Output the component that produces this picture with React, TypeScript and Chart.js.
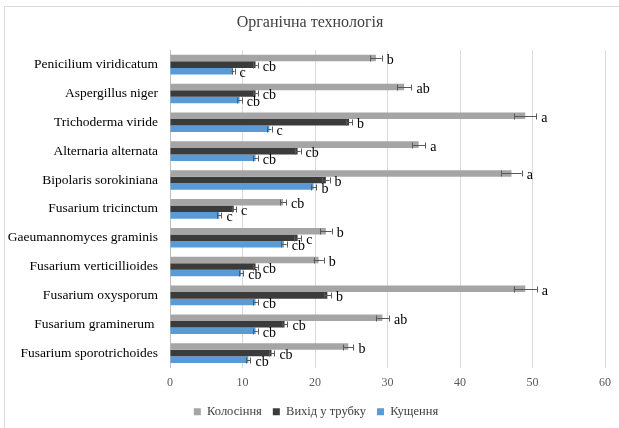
import React, { useEffect, useRef } from "react";
import { Chart, registerables } from "chart.js";

Chart.register(...registerables);

const categories = [
  "Penicilium viridicatum",
  "Aspergillus niger",
  "Trichoderma viride",
  "Alternaria alternata",
  "Bipolaris sorokiniana",
  "Fusarium tricinctum",
  "Gaeumannomyces graminis",
  "Fusarium verticillioides",
  "Fusarium oxysporum",
  "Fusarium graminerum ",
  "Fusarium sporotrichoides",
];

const seriesNames = ["Колосіння", "Вихід у трубку", "Кущення"];

const kolos = [28.4, 32.3, 49.0, 34.3, 47.1, 15.6, 21.5, 20.5, 49.0, 29.3, 24.6];
const kolosErr = [0.8, 1.0, 1.5, 0.9, 1.4, 0.4, 0.8, 0.7, 1.6, 0.9, 0.7];
const kolosLetters = ["b", "ab", "a", "a", "a", "cb", "b", "b", "a", "ab", "b"];

const vykhid = [11.8, 11.8, 24.7, 17.6, 21.5, 8.8, 17.6, 11.8, 21.7, 15.8, 14.0];
const vykhidErr = [0.3, 0.3, 0.4, 0.4, 0.5, 0.3, 0.5, 0.3, 0.5, 0.4, 0.4];
const vykhidLetters = ["cb", "cb", "b", "cb", "b", "c", "c", "cb", "b", "cb", "cb"];

const kushch = [8.7, 9.6, 13.7, 11.8, 19.8, 6.8, 15.7, 9.8, 11.8, 11.8, 10.8];
const kushchErr = [0.2, 0.3, 0.3, 0.3, 0.4, 0.3, 0.4, 0.3, 0.3, 0.3, 0.3];
const kushchLetters = ["c", "cb", "c", "cb", "b", "c", "cb", "cb", "cb", "cb", "cb"];

const xTicks = [0, 10, 20, 30, 40, 50, 60];

const errors = [kolosErr, vykhidErr, kushchErr];
const letters = [kolosLetters, vykhidLetters, kushchLetters];

const SERIF = "'Liberation Serif', 'DejaVu Serif', serif";

const errorBarPlugin = {
  id: "errorBars",
  afterDatasetsDraw(chart: any) {
    const ctx = chart.ctx;
    const xScale = chart.scales.x;
    ctx.save();
    chart.data.datasets.forEach((ds: any, di: number) => {
      const meta = chart.getDatasetMeta(di);
      meta.data.forEach((bar: any, i: number) => {
        const v = ds.data[i];
        const e = errors[di][i];
        const x1 = xScale.getPixelForValue(v - e);
        const x2 = xScale.getPixelForValue(v + e);
        const y = Math.round(bar.y) + 0.5;
        ctx.strokeStyle = "#595959";
        ctx.lineWidth = 1;
        ctx.beginPath();
        ctx.moveTo(x1, y);
        ctx.lineTo(x2, y);
        ctx.moveTo(Math.round(x1) + 0.5, y - 3);
        ctx.lineTo(Math.round(x1) + 0.5, y + 3);
        ctx.moveTo(Math.round(x2) + 0.5, y - 3);
        ctx.lineTo(Math.round(x2) + 0.5, y + 3);
        ctx.stroke();
        ctx.fillStyle = "#000000";
        ctx.font = "14px " + SERIF;
        ctx.textAlign = "left";
        ctx.textBaseline = "middle";
        ctx.fillText(letters[di][i], x2 + 5, y + 2);
      });
    });
    ctx.restore();
  },
};

const borderPlugin = {
  id: "outerBorder",
  beforeDraw(chart: any) {
    const ctx = chart.ctx;
    ctx.save();
    ctx.fillStyle = "#ffffff";
    ctx.fillRect(0, 0, chart.width, chart.height);
    ctx.strokeStyle = "#d9d9d9";
    ctx.lineWidth = 1;
    ctx.beginPath();
    ctx.moveTo(4.5, chart.height);
    ctx.lineTo(4.5, 6.5);
    ctx.lineTo(chart.width, 6.5);
    ctx.stroke();
    ctx.restore();
  },
};

const shiftPlugin = {
  id: "shiftBoxes",
  afterLayout(chart: any) {
    if (chart.legend) {
      chart.legend.left += 13;
      chart.legend.right += 13;
    }
    if (chart.titleBlock) {
      chart.titleBlock.left += 7;
      chart.titleBlock.right += 7;
    }
  },
};

export default function App() {
  const ref = useRef<HTMLCanvasElement>(null);

  useEffect(() => {
    document.body.style.margin = "0";
    const canvas = ref.current!;
    const chart = new Chart(canvas, {
      type: "bar",
      data: {
        labels: categories,
        datasets: [
          { label: seriesNames[0], data: kolos, backgroundColor: "#a5a5a5" },
          { label: seriesNames[1], data: vykhid, backgroundColor: "#3b3b3b" },
          { label: seriesNames[2], data: kushch, backgroundColor: "#5b9bd5" },
        ],
      },
      options: {
        indexAxis: "y",
        animation: false,
        responsive: false,
        devicePixelRatio: 1,
        layout: { padding: { top: 5, right: 13, bottom: 0, left: 0 } },
        datasets: {
          bar: { categoryPercentage: 0.68, barPercentage: 1.0 },
        },
        scales: {
          x: {
            min: 0,
            max: 60,
            afterBuildTicks: (scale: any) => {
              scale.ticks = xTicks.map((v) => ({ value: v }));
            },
            afterFit: (scale: any) => {
              scale.height = 27;
            },
            grid: { color: "#d9d9d9", drawTicks: false },
            border: { display: false },
            ticks: {
              color: "#595959",
              font: { family: SERIF, size: 12 },
              padding: 8,
            },
          },
          y: {
            grid: { display: false, drawTicks: false },
            border: { display: true, color: "#bfbfbf" },
            afterFit: (scale: any) => {
              scale.width = 170;
            },
            ticks: {
              color: "#000000",
              font: { family: SERIF, size: 13.5 },
              padding: 12,
              autoSkip: false,
            },
          },
        },
        plugins: {
          title: {
            display: true,
            text: "Органічна технологія",
            color: "#404040",
            font: { family: SERIF, size: 16, weight: "normal" },
            padding: { top: 8, bottom: 18 },
          },
          legend: {
            position: "bottom",
            labels: {
              color: "#404040",
              font: { family: SERIF, size: 12.5 },
              boxWidth: 7,
              boxHeight: 7,
              padding: 11,
            },
          },
          tooltip: { enabled: false },
        },
      },
      plugins: [borderPlugin, shiftPlugin, errorBarPlugin],
    } as any);
    return () => chart.destroy();
  }, []);

  return <canvas ref={ref} width={619} height={428} style={{ display: "block" }} />;
}
